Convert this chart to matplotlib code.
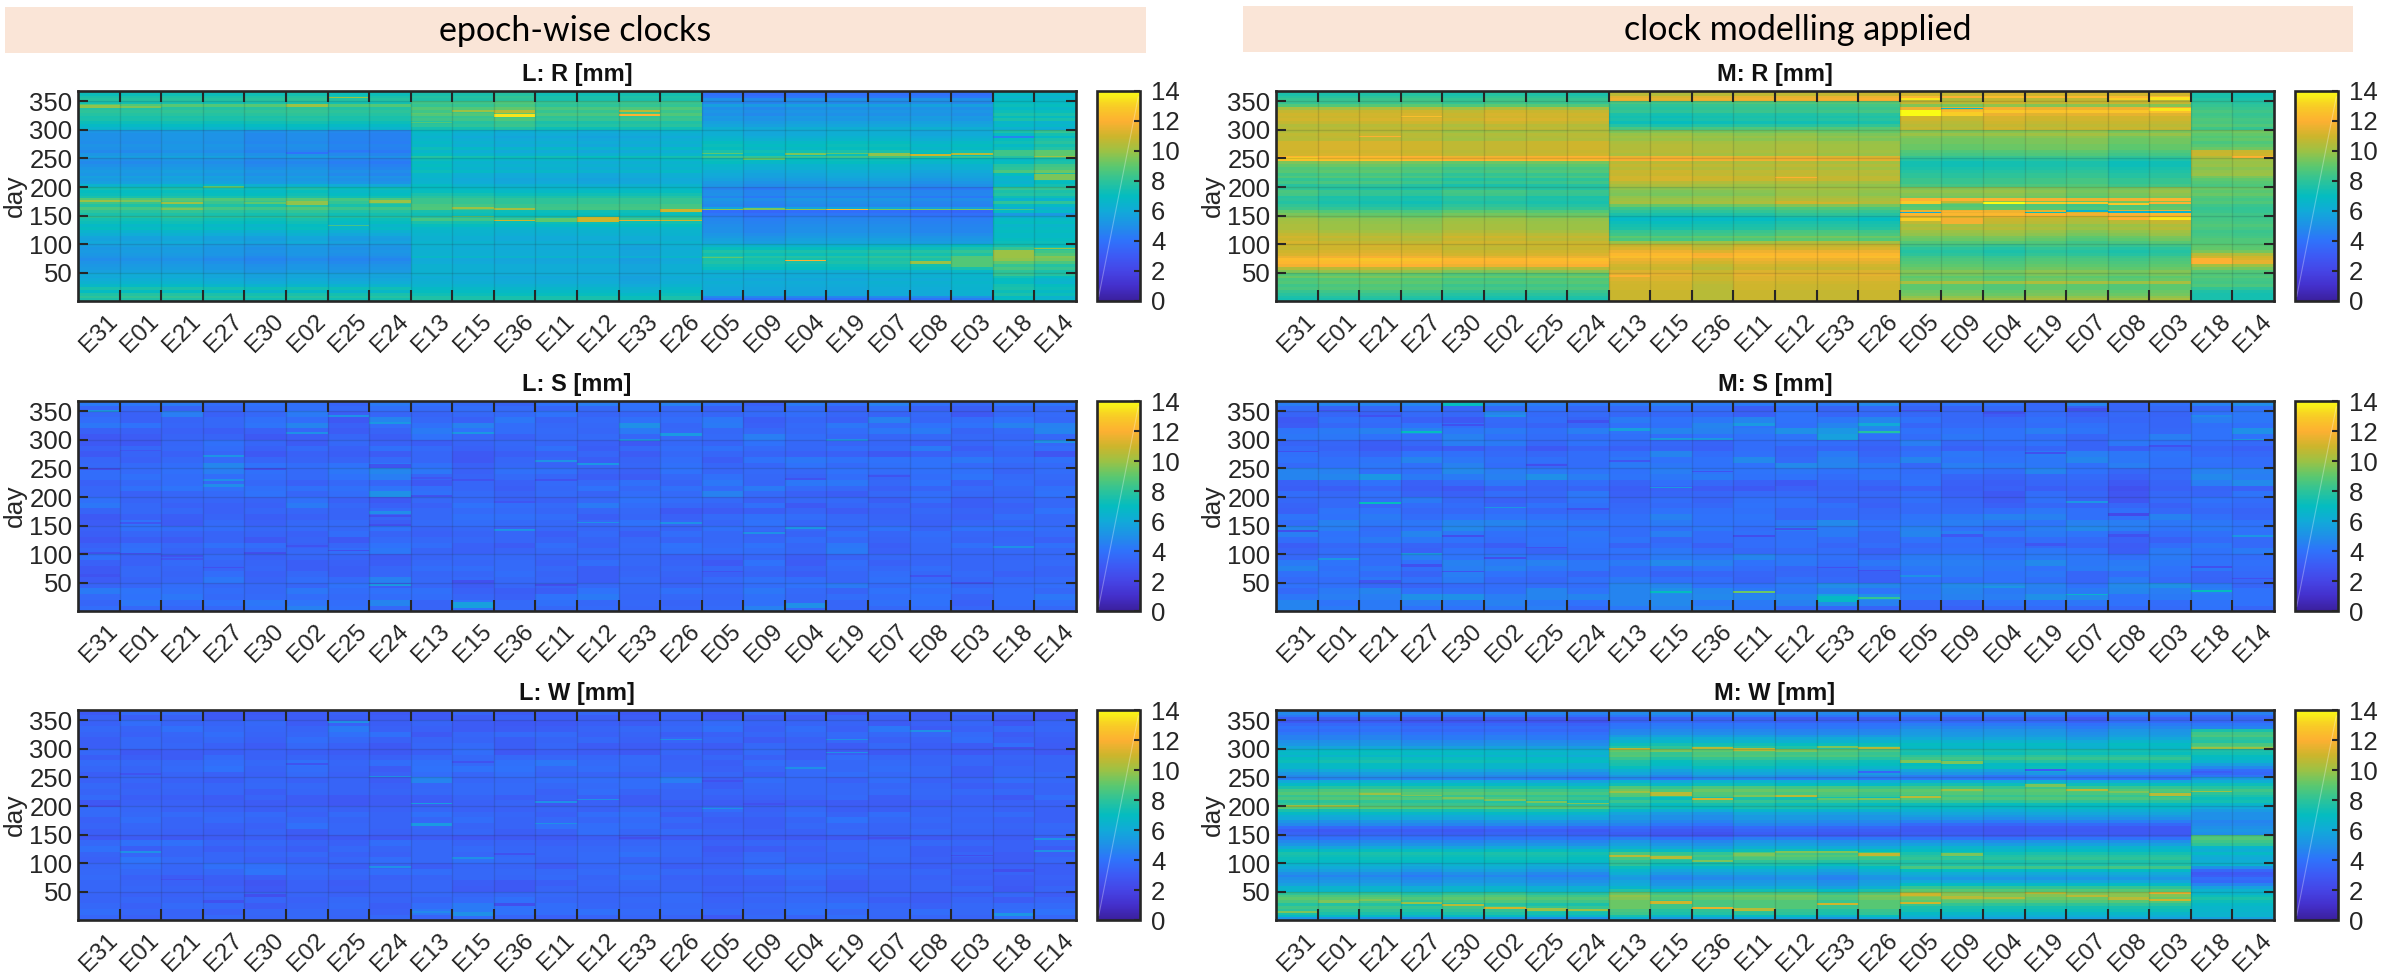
import numpy as np
import matplotlib
matplotlib.use("Agg")
import matplotlib.pyplot as plt
from matplotlib.colors import LinearSegmentedColormap
from matplotlib.patches import Rectangle

SATS = ["E31","E01","E21","E27","E30","E02","E25","E24","E13","E15","E36","E11",
        "E12","E33","E26","E05","E09","E04","E19","E07","E08","E03","E18","E14"]
GROUP_SIZES = [8, 7, 7, 2]
BAND_TOPS = [368,360,350,340,330,320,310,300,290,280,270,260,250,240,230,220,210,200,190,
             180,170,160,150,140,130,120,110,100,90,80,70,60,50,40,30,20,10,0]
FINE_TOPS = [368] + list(range(360, -1, -5))
COARSE_TOPS = [368, 300, 200, 100, 0]

# group profiles: one list per satellite group, first the newest days (360+), then 5-day bands
L_R_A = [7.2, 7.6,7.8,7.4,8.8,7.8,8.0, 7.8,7.5,7.6,7.2,6.8,6.5, 5.2,5.0,5.0,5.0,4.9,5.1, 5.0,4.8,5.2,5.5,5.0,4.8, 5.0,5.2,5.4,5.2,5.6,5.4, 5.6,6.5,7.2,6.8,7.0,7.4, 8.6,8.2,7.6,8.4,7.8,7.4, 7.8,7.2,7.0,6.6,6.8,6.3, 6.0,5.6,5.5,5.7,5.4,5.2, 5.3,5.2,5.0,4.8,5.0,5.2, 5.3,5.5,5.9,5.8,6.0,6.2, 6.6,7.4,6.8,7.6,7.9,7.5]
L_R_B = [7.3, 7.6,7.5,8.2,8.0,8.6,8.2, 8.6,8.0,8.2,7.6,7.8,7.2, 6.2,6.0,5.8,6.0,6.2,6.0, 6.6,6.0,6.4,7.2,6.6,6.2, 6.4,6.2,6.6,6.0,6.0,5.8, 5.9,6.3,6.6,6.8,7.2,7.6, 8.0,8.0,8.3,8.4,7.2,7.0, 7.6,8.2,7.2,6.8,6.4,6.3, 6.2,6.0,6.0,6.2,6.0,5.9, 6.0,6.0,6.4,5.7,5.8,6.0, 6.0,6.0,6.0,5.8,5.9,6.0, 6.2,6.5,6.7,7.0,7.4,7.4]
L_R_C = [3.9, 4.2,5.0,4.8,5.6,5.0,5.2, 5.0,5.4,5.3,5.6,5.8,6.2, 6.0,6.0,6.2,6.4,6.8,7.0, 6.8,7.4,7.0,8.2,7.0,6.8, 6.4,6.3,6.0,5.8,5.7,5.5, 5.2,5.0,4.6,4.9,5.0,4.6, 5.2,5.0,4.8,6.0,3.8,4.2, 4.5,4.7,4.8,4.9,5.0,5.0, 5.2,5.4,5.6,5.8,6.4,7.0, 7.6,7.2,7.8,7.4,7.6,7.2, 7.0,6.2,6.0,6.1,5.9,6.1, 6.0,5.9,5.8,5.8,4.6,3.9]
L_R_D = [6.8, 6.5,6.8,6.9,7.2,6.8,7.2, 7.6,7.0,7.6,6.6,6.8,6.3, 7.8,7.0,6.4,7.2,7.5,7.0, 7.4,8.6,8.6,8.0,7.0,7.2, 8.0,8.2,8.8,7.2,6.6,6.8, 6.6,7.0,8.2,7.6,7.8,7.2, 6.4,8.0,6.8,6.2,6.8,5.4, 6.2,6.8,7.0,6.6,6.8,7.0, 6.8,6.8,7.0,7.2,7.0,7.8, 8.4,8.8,9.6,9.4,8.6,7.8, 8.2,7.6,7.8,7.0,6.6,6.5, 7.0,7.2,6.8,7.2,6.4,6.6]
M_R_A = [7.6, 7.9,8.2,8.2,8.8,10.2,10.8, 11.0,10.9,11.1,10.8,10.4,10.6, 10.3,10.6,10.5,10.4,11.0,11.0, 11.0,10.9,11.0,12.0,12.4,9.4, 9.0,8.6,8.8,8.3,8.6,8.0, 8.4,7.8,7.8,8.3,8.2,7.6, 7.7,7.5,7.8,8.1,8.8,9.2, 9.4,9.8,9.9,10.0,10.0,10.2, 10.5,10.8,10.6,10.9,10.9,10.8, 11.0,11.2,11.6,12.4,12.2,11.8, 10.4,9.6,8.8,9.2,8.6,8.8, 8.4,8.6,8.2,7.9,7.6,7.4]
M_R_B = [10.6, 11.4,11.6,8.6,8.2,8.0,8.2, 7.6,7.4,7.6,7.2,7.8,8.6, 9.2,9.6,9.8,9.6,10.0,10.1, 10.1,10.2,10.0,11.4,11.6,10.2, 10.5,10.2,10.6,10.5,10.8,10.8, 10.2,9.9,10.0,9.8,9.7,10.0, 10.2,10.4,9.4,8.6,8.2,7.8, 7.3,7.0,7.4,7.6,7.8,8.4, 8.6,9.2,8.8,10.2,10.6,10.9, 11.4,12.0,12.2,11.4,11.1,10.8, 10.6,11.0,11.2,11.0,11.0,10.8, 10.7,10.7,10.6,10.6,10.6,10.6]
M_R_C = [10.8, 12.0,10.4,10.6,9.4,11.4,12.4, 11.2,10.8,10.8,10.6,10.4,10.6, 9.6,10.0,9.6,9.4,9.4,9.2, 9.2,8.8,8.6,8.2,7.8,7.4, 7.4,7.6,7.8,8.0,8.0,8.3, 8.3,8.6,9.4,9.6,9.4,9.2, 11.8,9.4,8.6,8.8,11.4,12.0, 11.0,10.6,10.5,10.0,10.2,9.8, 9.6,9.2,9.0,8.6,8.4,8.0, 7.8,8.0,8.4,8.6,8.8,9.0, 9.2,9.6,9.4,9.0,9.2,10.2, 9.0,9.0,9.2,9.4,9.8,10.2]
M_R_D = [7.5, 7.6,7.8,8.0,8.2,8.4,8.6, 8.4,8.5,8.7,8.6,8.9,8.4, 9.2,9.0,8.8,9.0,8.6,8.9, 9.2,10.8,10.9,10.4,10.0,9.8, 9.9,9.6,9.8,9.9,9.4,9.0, 8.8,8.6,9.2,9.0,9.2,8.8, 8.6,8.8,8.4,8.2,8.3,8.5, 8.4,8.5,8.6,8.8,8.6,8.4, 8.5,8.6,8.8,8.8,8.9,9.0, 9.4,10.4,11.0,11.2,10.8,10.0, 9.4,8.8,8.6,8.8,8.5,8.4, 8.6,8.0,7.6,7.4,7.4,7.4]
M_W_A = [4.8, 4.2,3.2,3.0,3.6,4.0,3.8, 4.2,4.5,4.5,5.0,5.2,5.8, 6.6,6.8,6.4,7.0,7.2,6.6, 6.6,5.8,5.2,4.8,4.4,6.0, 6.8,7.6,8.4,8.8,8.2,8.6, 7.8,8.2,8.8,7.4,6.6,6.0, 5.8,5.0,4.6,3.6,3.0,3.2, 3.6,4.0,4.6,5.0,5.8,6.8, 7.4,7.2,7.0,6.8,6.4,6.0, 5.6,5.0,4.6,5.0,5.2,5.6, 6.4,6.6,8.0,8.6,9.0,8.6, 7.8,8.4,8.0,7.6,6.8,5.2]
M_W_B = [4.8, 4.2,3.2,3.4,4.0,4.2,4.6, 4.8,5.4,6.0,6.4,7.2,7.8, 8.8,8.4,8.6,8.0,7.4,7.2, 6.8,6.0,5.6,5.0,4.4,6.2, 7.0,8.4,9.0,8.6,8.4,7.4, 8.0,7.2,7.4,6.4,5.6,5.2, 5.2,4.8,4.4,3.6,3.2,3.0, 3.2,4.2,5.0,5.4,6.0,7.0, 8.4,8.8,8.4,7.8,7.4,6.6, 6.0,5.6,5.0,4.8,5.2,5.4, 6.0,7.2,8.6,9.2,9.0,8.6, 8.6,8.6,8.0,7.8,6.8,5.6]
M_W_C = [4.6, 4.0,3.2,3.6,4.2,4.6,5.0, 5.2,5.4,5.8,6.4,6.8,6.6, 7.4,7.2,7.8,8.2,7.6,6.8, 7.0,5.6,5.0,4.2,4.0,6.0, 7.2,8.2,8.8,8.6,8.2,8.6, 8.0,7.0,6.8,6.2,5.8,5.4, 5.0,4.4,3.6,3.0,2.9,3.0, 3.2,4.0,5.0,5.6,6.4,6.8, 7.4,7.8,8.0,7.6,7.6,8.4, 6.8,6.0,5.6,5.2,5.8,6.8, 8.0,8.8,9.6,9.6,9.2,8.8, 8.0,7.4,7.2,6.6,6.2,5.6]
M_W_D = [4.5, 3.8,3.4,3.6,4.2,4.6,7.6, 8.4,8.6,8.0,7.8,8.6,9.0, 7.6,7.4,7.0,6.8,6.4,5.6, 4.8,3.8,3.6,4.2,5.4,6.2, 7.2,7.8,8.4,8.0,7.6,7.2, 7.4,6.6,6.0,5.4,5.0,5.0, 5.0,4.6,4.8,5.0,5.2,5.0, 8.6,8.8,8.4,8.0,6.6,6.2, 6.8,6.2,6.0,6.2,6.4,5.0, 3.6,3.0,3.2,3.8,3.6,4.6, 5.6,6.4,6.6,7.2,7.6,7.2, 6.8,6.6,6.6,6.4,6.5,5.6]

# per-satellite shifts against the group profile for four broad day ranges (newest first)
L_R_SHIFT = [
[0.0,0.0,0.1,0.0,0.1,0.2,0.0,0.0,0.2,0.2,0.5,0.0,0.0,0.1,0.1,0.0,-0.2,0.0,0.0,0.0,0.1,0.0,0.0,-0.1],
[0.0,0.0,0.2,0.1,-0.2,-0.1,-0.4,-0.5,0.6,0.2,0.0,0.1,-0.1,0.0,0.2,0.2,-0.1,0.0,0.2,0.2,-0.2,0.0,-0.2,0.4],
[0.2,0.1,0.3,0.1,0.0,0.3,-0.1,0.0,0.3,0.2,0.0,0.0,0.1,0.1,0.2,0.0,-0.3,0.0,0.0,0.0,-0.3,-0.3,0.0,0.0],
[0.1,0.2,0.2,0.0,-0.2,0.0,-0.2,-0.1,0.3,0.2,0.1,0.1,0.1,-0.2,0.2,0.1,0.0,0.0,0.0,0.2,0.2,0.5,0.4,0.0]]
M_R_SHIFT = [
[0.0,0.0,0.1,0.2,-0.1,0.2,0.1,0.0,0.0,-0.2,0.0,0.1,0.1,0.2,0.3,0.2,0.0,0.4,0.2,0.3,0.3,0.2,0.0,-0.2],
[0.1,0.2,0.2,0.0,-0.3,-0.2,-0.1,0.0,0.3,0.4,0.2,0.1,0.2,0.0,-0.1,0.0,-0.1,0.0,0.1,0.2,-0.2,-0.1,0.0,0.1],
[0.3,0.0,-0.1,-0.2,0.2,0.2,0.0,0.0,-0.2,-0.3,-0.2,-0.1,0.2,0.2,0.0,0.2,0.2,0.3,0.1,-0.2,0.0,0.3,0.0,-0.1],
[0.0,0.2,0.3,0.2,-0.1,-0.1,0.0,0.1,0.3,0.3,-0.1,0.3,0.2,0.2,0.3,0.0,0.0,-0.2,0.1,0.0,-0.2,0.0,0.1,0.0]]
M_W_SHIFT = [
[0.0,0.0,0.1,-0.2,-0.2,-0.1,-0.2,-0.3,0.0,0.2,0.1,0.1,-0.1,0.0,0.0,0.2,0.0,0.1,0.1,-0.3,0.2,0.1,0.0,0.0],
[0.0,0.2,0.3,0.1,0.1,0.0,-0.1,-0.3,0.3,-0.3,0.2,0.2,0.0,0.1,-0.2,0.2,0.2,0.0,0.2,0.0,0.0,-0.1,0.0,0.0],
[0.2,0.0,0.2,0.1,0.0,0.2,0.2,0.0,0.2,-0.2,-0.3,0.2,0.2,0.0,0.0,0.1,0.1,-0.1,0.1,0.1,0.0,0.0,0.0,0.0],
[0.0,0.0,0.0,-0.3,0.0,0.1,-0.2,-0.2,0.6,-0.2,0.0,0.1,0.2,-0.3,0.3,0.2,0.1,0.0,0.0,0.0,0.1,0.0,0.0,0.0]]

# narrow stripes: (satellite, first day, last day, value)
L_R_STRIPES = [("E36",322,328,13.5),("E36",330,335,10.5),("E33",325,328,12.0),("E33",332,335,10.5),("E15",331,334,10.0),
    ("E13",327,329,9.0),("E13",312,314,8.8),("E31",339,343,9.8),("E01",338,341,9.5),("E02",340,345,10.0),("E25",355,358,10.0),
    ("E31",174,177,10.0),("E01",174,177,9.5),("E21",171,174,10.0),("E21",160,163,9.5),("E27",199,202,9.0),("E30",171,174,9.0),
    ("E02",168,175,9.8),("E24",172,177,10.0),("E25",132,134,8.5),("E15",147,150,9.0),("E15",162,165,10.0),("E36",160,164,10.2),
    ("E36",140,143,11.0),("E11",138,145,9.0),("E12",139,147,11.0),("E33",140,143,11.5),("E26",157,161,11.0),("E26",140,143,11.0),
    ("E05",159,162,9.8),("E09",160,163,9.5),("E04",159,162,10.0),("E19",159,162,12.5),("E07",159,162,9.5),("E08",159,162,9.5),("E03",159,162,9.5),
    ("E18",159,162,8.5),("E08",255,258,11.0),("E03",256,259,10.5),("E07",255,260,9.8),("E04",256,259,9.5),("E19",258,260,9.0),
    ("E04",70,73,12.0),("E08",66,70,10.0),("E03",60,80,8.8),("E18",80,90,10.0),("E14",252,255,10.0),("E14",212,222,9.5),("E14",92,94,10.0),
    ("E05",75,78,9.0),("E05",258,260,9.0),("E09",248,251,9.0),("E25",262,264,4.2),("E02",258,262,4.0),("E18",285,290,4.6)]
M_R_STRIPES = [("E05",325,335,14.0),("E05",352,355,13.5),("E09",325,332,13.0),("E03",333,338,13.5),("E03",352,357,13.5),("E08",352,355,13.0),
    ("E09",336,339,6.5),("E04",170,173,14.0),("E05",170,175,12.8),("E09",172,176,10.8),("E19",170,173,13.0),("E07",170,173,12.8),("E08",168,172,12.8),("E03",170,174,12.0),
    ("E05",154,157,6.0),("E09",156,158,12.0),("E19",154,156,7.0),("E07",157,160,6.5),("E08",155,158,6.5),("E03",155,158,6.5),
    ("E05",140,146,13.0),("E09",135,145,11.8),("E03",142,147,13.5),("E08",142,147,12.0),("E27",322,325,12.5),("E21",287,290,12.0),
    ("E31",248,253,13.0),("E01",70,72,12.5),("E13",43,46,12.0),("E12",215,218,12.0),("E12",170,176,11.0),("E33",170,174,11.0),("E14",250,254,12.0),("E18",66,76,12.0),("E14",65,72,11.5)]
M_W_STRIPES = [("E31",199,202,10.0),("E01",198,201,10.0),("E21",219,222,10.0),("E27",217,220,9.5),("E30",213,216,9.5),("E02",209,212,9.5),("E25",205,208,9.5),("E24",203,206,9.5),
    ("E13",223,227,10.0),("E15",217,224,10.5),("E36",210,214,11.0),("E11",216,220,9.5),("E12",215,219,10.5),("E33",211,214,9.0),("E26",210,214,9.5),("E05",214,218,10.5),("E09",226,230,10.0),("E19",234,238,9.5),("E07",226,230,10.5),("E08",223,227,9.5),("E03",218,222,10.5),("E18",224,227,10.0),
    ("E13",298,301,10.5),("E15",295,299,9.5),("E36",300,303,10.5),("E11",297,301,10.5),("E12",295,299,9.5),("E33",301,305,9.5),("E26",299,303,10.5),("E05",276,280,9.5),("E09",274,278,9.5),("E18",299,303,10.0),("E14",300,304,10.0),
    ("E13",111,115,10.5),("E15",108,112,10.5),("E36",102,106,9.5),("E11",113,117,9.5),("E12",118,122,9.5),("E33",117,121,9.5),("E26",113,118,10.8),("E09",113,118,9.5),
    ("E31",13,16,9.5),("E01",31,35,9.5),("E21",34,38,9.5),("E27",29,32,10.0),("E30",25,29,10.5),("E02",20,24,11.0),("E25",17,21,10.0),("E24",16,19,10.0),("E15",29,33,11.0),("E36",20,24,11.5),("E11",17,21,10.5),("E33",26,30,11.0),
    ("E05",43,47,11.0),("E05",28,32,11.0),("E09",38,42,10.5),("E04",37,41,10.5),("E19",46,50,10.5),("E07",40,44,10.5),("E08",35,40,10.5),("E03",46,50,11.5),("E03",34,38,11.0),
    ("E19",262,265,3.0),("E18",258,262,3.2),("E26",258,262,3.5)]
M_S_STRIPES = [("E11",32,35,9.2),("E26",21,25,8.2),("E33",16,26,6.8),("E15",32,36,7.0),("E26",312,315,7.8),("E27",312,315,7.0),("E21",188,191,7.0),("E30",360,364,7.0),("E08",166,172,2.2),("E18",34,37,7.0),("E07",28,31,6.5),
    ("E31",278,281,2.6),("E31",138,142,2.5),("E01",350,353,2.7),("E01",90,93,5.2),("E21",340,343,2.6),("E21",50,54,2.8),("E27",98,102,5.3),("E27",78,82,2.6),("E30",325,328,2.6),("E30",130,133,2.5),("E30",68,71,2.7),
    ("E02",340,343,5.0),("E02",180,183,5.2),("E02",92,95,2.5),("E25",255,258,2.5),("E25",110,113,2.7),("E24",330,334,2.6),("E24",178,181,2.6),("E13",315,320,5.6),("E13",262,265,2.8),("E15",300,304,5.4),("E15",215,218,5.4),
    ("E36",243,246,2.7),("E36",300,303,5.3),("E11",130,133,2.5),("E11",325,330,5.4),("E12",142,146,2.6),("E33",300,310,5.6),("E33",75,78,2.6),("E26",325,330,6.0),("E26",70,73,2.6),("E05",350,353,2.6),("E05",60,64,5.0),
    ("E09",130,136,2.9),("E04",345,348,2.6),("E04",40,44,5.2),("E19",275,278,2.6),("E19",115,120,2.8),("E07",350,355,2.6),("E07",190,193,5.2),("E08",130,135,2.6),("E03",288,291,2.6),("E18",340,344,4.8),("E18",75,80,2.6),("E14",300,302,5.4),("E14",130,133,5.2),("E14",56,59,2.6)]
L_S_STRIPES = [("E15",6,16,5.6),("E04",6,14,5.0),("E24",171,176,4.9),("E24",44,48,5.4),("E31",349,352,5.2),("E36",141,144,5.2),("E12",154,157,5.0),("E27",217,222,4.9),("E26",307,312,5.4),("E04",144,148,5.2),
    ("E31",248,251,2.5),("E31",60,66,2.7),("E31",100,103,2.6),("E01",100,102,2.5),("E01",153,157,2.8),("E01",280,283,2.8),("E21",95,99,2.7),("E21",90,93,2.8),("E27",270,273,5.1),("E27",228,231,5.0),("E27",75,78,2.6),("E30",248,251,2.6),("E30",100,103,2.5),
    ("E02",112,116,2.7),("E02",310,313,5.0),("E25",105,108,2.5),("E25",340,343,5.0),("E24",328,331,5.3),("E24",150,153,2.5),("E24",250,258,2.7),("E24",165,168,2.5),("E13",200,204,2.7),("E13",232,235,2.8),("E15",228,232,2.7),("E15",50,54,2.6),("E15",310,313,5.3),
    ("E36",190,193,2.8),("E36",140,143,5.0),("E11",262,265,5.1),("E11",45,48,2.5),("E11",228,231,2.7),("E12",256,259,5.2),("E33",298,302,5.0),("E26",152,156,5.0),("E05",68,71,2.7),("E09",135,138,5.0),("E04",230,233,2.7),("E19",298,302,5.0),("E07",235,238,2.7),("E08",60,64,2.7),("E03",48,52,2.7),("E18",110,114,5.0),("E14",295,299,5.0)]
L_W_STRIPES = [("E13",203,205,5.5),("E11",205,208,5.0),("E15",108,111,5.0),("E15",8,14,5.0),("E18",8,12,5.2),("E13",12,16,4.8),("E05",194,197,5.0),("E19",292,295,5.0),("E14",140,144,5.0),
    ("E31",198,201,2.6),("E01",118,121,5.0),("E01",255,258,2.7),("E21",70,73,2.6),("E27",30,35,2.6),("E30",40,46,2.5),("E02",272,275,2.7),("E25",345,348,5.0),("E24",250,253,5.0),("E24",92,95,5.0),("E13",165,170,5.4),("E15",275,278,2.7),
    ("E36",115,118,2.6),("E36",25,30,2.5),("E11",168,171,5.0),("E12",210,213,5.0),("E33",142,145,2.5),("E26",315,318,5.0),("E05",242,245,2.6),("E09",202,206,2.6),("E04",265,268,5.0),("E19",315,318,5.0),("E07",142,145,2.5),("E08",330,333,5.0),("E03",112,115,2.5),("E18",85,90,2.5),("E14",120,123,5.0),("E18",300,303,2.5)]

# single-satellite tables: one row per 10-day band (latest first), one value per satellite
L_S = [
[4.3,4.2,4.3,3.8,4.0,3.9,3.4,4.3,3.9,3.7,3.4,4.0,4.4,4.0,4.5,4.0,3.3,4.3,3.9,4.5,3.9,3.6,4.1,4.1],
[3.5,3.6,3.4,3.5,3.8,3.9,3.6,3.9,3.7,3.8,3.7,3.5,3.6,3.9,3.6,3.3,3.5,3.7,3.3,3.8,3.3,3.2,3.5,3.6],
[3.6,3.3,4.4,3.3,3.6,4.3,3.2,3.5,3.4,3.6,3.7,4.0,3.4,3.5,3.6,3.5,3.7,3.8,3.5,3.4,3.6,3.0,3.6,3.7],
[3.8,3.3,3.4,3.6,3.9,3.8,2.9,4.6,3.6,3.3,4.2,3.4,3.7,3.9,3.8,4.2,3.2,3.5,3.3,4.5,3.5,3.8,4.0,3.6],
[4.2,4.0,3.5,3.6,4.1,4.6,3.3,3.8,3.9,4.5,3.8,3.6,3.6,5.0,3.5,4.3,3.3,3.7,4.2,3.7,4.0,4.0,4.5,4.5],
[3.3,3.3,3.3,3.2,3.3,3.5,3.1,3.4,4.3,4.0,3.8,3.7,3.5,4.3,3.6,3.6,3.6,3.6,3.8,4.2,4.3,3.4,3.7,4.6],
[2.9,3.1,3.4,3.4,3.0,3.2,3.5,3.2,4.0,3.5,3.3,3.6,3.7,3.5,3.6,3.7,4.4,3.8,3.6,3.5,3.6,3.6,3.5,3.6],
[3.0,3.0,3.5,3.9,3.5,3.1,3.6,3.3,3.2,3.4,3.6,3.5,3.3,3.0,3.6,3.4,4.0,3.6,3.4,3.5,3.3,3.5,3.8,3.6],
[3.3,3.6,3.6,3.8,3.3,3.7,3.3,3.9,3.7,3.3,3.5,3.9,3.2,3.6,3.8,3.9,3.7,3.6,3.8,3.7,4.3,3.2,3.6,3.8],
[3.0,3.4,3.3,3.5,3.0,3.3,3.2,3.1,3.5,3.0,3.2,3.3,3.5,3.1,3.6,3.5,3.4,3.3,3.3,3.0,3.3,3.5,3.4,2.8],
[3.5,3.3,3.6,3.7,3.5,3.4,3.4,3.7,3.5,2.9,3.5,3.5,3.2,3.4,3.8,3.2,4.0,4.2,4.0,4.0,4.0,4.2,3.8,3.9],
[3.6,3.7,3.8,4.7,4.0,3.8,4.0,4.2,3.9,3.3,3.6,3.4,3.6,3.5,3.9,3.5,3.5,4.0,3.7,3.9,4.0,3.7,3.6,3.7],
[3.8,3.7,3.9,4.4,3.9,3.7,4.2,4.7,4.2,3.3,3.9,3.9,3.4,3.3,4.0,3.5,3.7,3.6,4.0,3.8,3.9,3.9,3.4,3.8],
[3.8,3.9,3.8,3.8,3.8,3.7,4.0,4.4,3.4,3.4,3.7,3.5,3.2,3.1,3.6,3.9,3.6,3.4,3.8,3.5,3.8,4.1,3.7,3.7],
[3.3,3.6,3.8,3.6,3.6,3.3,3.6,3.5,3.0,3.5,3.3,3.7,3.6,3.9,3.4,4.2,3.5,4.2,4.2,3.6,4.0,3.3,3.8,3.5],
[3.5,3.9,4.1,3.9,3.9,3.9,3.9,4.1,3.8,3.5,3.2,3.6,4.0,3.6,3.9,3.7,4.3,3.7,3.6,3.3,3.4,3.7,3.6,3.9],
[3.5,3.3,3.5,3.7,4.0,3.5,3.8,5.0,3.9,3.7,3.4,3.7,3.4,3.8,3.7,4.5,3.7,3.3,3.2,3.6,3.8,3.6,3.5,4.0],
[3.9,3.4,3.5,3.5,3.4,3.9,3.3,3.0,3.6,3.6,3.3,3.3,3.6,4.0,3.8,3.7,3.3,3.6,3.7,3.2,3.8,3.2,3.6,3.6],
[4.2,3.6,3.3,3.3,3.3,4.3,3.6,3.3,3.3,4.0,3.8,3.7,4.3,3.8,3.6,3.4,3.9,3.0,3.5,3.6,3.3,3.2,3.3,3.6],
[3.4,3.6,3.6,3.3,3.5,3.5,3.4,3.7,3.6,3.7,3.7,3.5,3.5,3.6,3.0,3.1,3.2,3.4,3.1,3.3,3.6,3.4,3.4,4.0],
[3.0,3.3,3.2,3.4,3.2,3.3,3.4,3.4,3.6,3.9,3.9,3.8,3.2,3.5,3.3,3.7,3.9,3.8,3.6,3.4,3.4,3.3,3.8,3.6],
[3.1,4.0,3.1,3.7,3.3,3.6,3.7,3.2,3.7,3.8,3.7,3.6,3.6,4.0,3.5,3.5,4.0,3.5,3.7,3.5,3.3,3.5,3.5,3.6],
[3.3,3.9,3.8,3.8,3.6,3.7,3.6,4.0,3.4,3.6,3.3,3.6,3.5,3.6,3.4,3.9,3.7,3.7,3.5,4.0,3.4,4.0,4.0,3.8],
[3.2,3.5,3.4,3.4,3.4,3.3,3.8,3.4,3.3,3.4,3.5,3.2,3.7,3.2,3.8,3.6,3.4,3.4,3.9,3.5,3.8,3.5,3.4,3.7],
[2.9,3.2,3.1,3.4,3.0,3.4,3.0,3.7,3.6,3.6,3.5,3.4,3.4,3.6,3.4,3.6,3.5,3.8,3.6,3.4,3.7,3.4,3.5,3.3],
[3.3,3.8,3.6,3.9,3.8,3.3,3.5,4.0,3.8,3.3,3.1,3.8,3.3,3.7,4.0,3.7,4.0,3.5,4.2,3.2,3.6,3.9,3.6,3.9],
[3.5,3.9,3.4,3.4,3.5,3.6,3.8,4.2,3.4,3.3,3.4,3.6,3.6,3.6,3.9,3.8,3.8,3.6,4.3,3.3,3.6,3.5,3.6,3.6],
[3.9,3.3,3.5,3.7,3.3,3.5,3.4,3.1,3.4,3.6,3.6,3.4,3.4,3.6,3.3,3.3,3.5,3.2,3.4,3.6,3.4,3.5,3.5,3.6],
[3.3,3.3,3.7,3.5,3.4,3.2,3.3,3.2,3.6,3.5,3.7,3.3,3.8,3.6,3.4,3.0,4.0,3.1,3.8,3.3,3.5,3.5,3.6,3.7],
[3.0,3.6,3.5,3.4,3.5,3.2,3.2,3.5,3.8,3.8,3.7,3.6,3.2,3.4,3.6,3.6,3.6,3.4,3.7,3.6,3.8,3.5,3.6,3.4],
[3.0,3.6,3.4,3.8,3.3,3.6,3.2,3.5,3.5,3.5,3.8,3.4,3.2,3.5,3.4,3.3,3.4,3.2,3.5,3.8,3.6,3.7,3.3,3.4],
[3.1,3.4,3.5,4.2,3.4,3.8,3.7,4.5,3.6,3.7,3.6,3.5,3.2,3.7,3.3,3.7,3.9,3.8,3.5,3.9,3.7,3.5,3.7,3.7],
[3.4,3.5,3.8,3.6,3.6,3.5,4.0,3.2,3.5,3.1,3.5,3.4,3.6,3.6,3.4,3.5,3.8,4.0,4.3,3.7,4.0,3.5,3.7,3.8],
[4.3,4.1,3.9,3.8,3.6,4.2,3.8,4.0,3.9,3.3,3.2,3.2,4.0,3.6,3.9,3.7,4.2,3.7,3.4,4.0,3.8,3.8,3.8,3.6],
[3.7,4.0,4.2,3.7,3.7,3.8,3.7,3.8,3.8,3.5,3.3,4.0,4.3,3.5,3.6,3.5,3.9,3.6,3.8,3.8,4.0,3.4,3.8,4.2],
[3.5,4.2,3.8,4.0,4.2,4.1,3.8,4.6,3.4,4.0,3.7,3.9,3.6,3.6,3.4,3.6,3.9,3.6,3.5,3.9,4.0,3.3,3.8,3.9],
[3.8,3.6,3.5,3.6,4.0,4.5,3.9,3.6,3.4,3.9,3.7,3.6,3.7,3.5,3.5,3.7,4.5,3.6,3.5,3.6,3.8,3.5,3.7,3.6]]
M_S = [
[4.4,4.7,4.6,4.7,5.6,4.6,4.4,4.2,4.3,4.5,4.3,4.3,4.4,4.3,4.8,3.8,4.1,4.0,3.6,4.6,3.5,3.9,4.5,4.9],
[3.8,3.4,3.6,4.0,3.5,3.7,4.0,3.6,3.7,3.9,3.8,3.2,3.8,3.4,3.7,3.4,3.4,3.6,3.6,3.3,3.4,3.6,3.6,3.9],
[3.4,3.5,3.3,3.7,3.6,4.6,3.7,3.7,3.6,3.6,3.6,3.3,4.0,3.5,3.7,3.6,3.6,3.1,3.7,3.3,3.6,3.4,4.0,4.2],
[3.0,3.9,3.8,3.3,3.0,3.7,3.8,3.4,4.3,4.0,4.2,4.6,4.0,4.2,4.7,4.0,3.6,3.6,3.9,3.6,3.5,3.5,4.4,4.2],
[3.1,3.6,3.7,4.0,3.8,3.6,3.4,3.6,3.9,3.9,4.6,4.0,3.9,4.6,4.8,3.5,3.7,3.7,3.8,3.9,3.7,3.5,3.9,3.9],
[4.1,4.3,4.5,4.6,4.2,4.3,3.9,4.4,4.1,4.6,4.5,4.3,5.0,5.3,4.7,4.0,4.0,4.0,4.4,4.1,3.7,3.6,4.0,5.0],
[4.2,4.2,4.0,3.8,4.5,4.0,3.8,3.8,3.9,3.8,4.0,4.0,4.1,4.0,3.9,3.8,4.2,4.0,3.8,3.5,3.8,4.4,4.0,4.0],
[3.4,3.5,3.2,3.6,4.4,4.3,3.6,4.0,3.7,3.6,3.4,3.8,3.9,3.8,3.5,4.4,3.6,3.8,4.0,3.4,4.2,4.0,3.8,3.7],
[3.7,3.4,3.1,3.2,3.1,3.5,3.0,3.4,3.3,3.4,3.3,3.8,3.4,3.5,3.3,3.7,3.3,3.5,3.5,3.4,3.2,3.6,3.5,3.3],
[3.9,3.7,3.5,4.0,3.9,3.7,3.6,3.8,3.9,4.6,3.8,3.9,3.5,4.3,3.5,3.9,4.2,3.9,4.3,4.4,4.2,4.1,3.7,3.6],
[4.0,3.9,4.1,4.6,4.2,3.9,3.9,3.8,4.2,4.0,4.0,4.8,3.7,4.5,3.8,4.6,4.1,4.0,4.2,4.7,4.2,4.0,4.0,3.8],
[3.7,3.9,4.2,3.9,4.5,3.8,3.7,3.8,4.3,4.2,4.0,4.0,4.8,4.6,4.3,3.6,4.4,4.3,4.2,3.9,4.4,4.0,3.9,3.8],
[4.6,4.5,3.9,3.9,4.8,4.4,4.3,4.1,4.0,4.4,4.1,4.1,4.2,4.0,4.0,3.8,4.1,3.8,4.6,4.0,3.6,3.6,4.5,4.5],
[4.6,4.7,5.3,4.3,4.3,4.5,5.0,4.4,4.1,4.2,4.3,4.0,4.0,3.8,4.1,3.9,3.5,3.4,3.6,3.7,3.3,3.7,4.8,4.4],
[3.3,3.6,4.0,3.3,3.7,4.2,3.6,3.8,3.4,3.9,3.6,3.3,3.0,3.5,3.5,4.0,3.3,3.2,3.5,3.5,3.0,3.4,4.4,4.8],
[3.2,3.2,3.5,3.2,2.9,3.3,3.4,3.4,3.2,3.3,3.1,3.0,3.3,3.4,3.2,3.3,3.2,3.3,3.2,3.3,2.6,3.3,3.4,3.3],
[3.8,3.6,3.9,3.4,3.3,3.8,3.6,4.2,3.3,3.5,3.5,3.7,3.7,3.6,3.6,3.8,3.3,3.0,3.8,3.5,2.8,3.6,3.5,4.1],
[3.6,3.7,3.8,4.3,3.6,3.3,3.5,4.1,3.4,3.8,3.4,3.9,3.9,3.4,3.4,3.9,3.5,3.1,3.9,3.4,2.8,3.7,4.0,3.8],
[3.4,3.7,3.5,3.8,3.8,3.6,4.0,3.9,3.6,3.7,3.6,4.0,3.9,3.9,3.3,3.7,3.6,3.3,3.6,3.4,3.5,3.3,3.8,3.7],
[3.3,4.1,4.0,3.6,3.6,3.8,3.5,3.6,3.7,4.0,3.9,3.9,3.5,3.7,3.6,3.7,3.7,3.8,4.2,3.9,3.9,3.6,3.6,3.4],
[4.1,4.0,4.3,3.8,4.0,4.1,4.0,3.9,3.9,4.5,4.0,4.1,3.5,3.7,3.7,4.1,4.3,4.5,4.5,3.9,3.9,4.5,3.9,3.5],
[3.8,4.5,4.2,4.2,4.6,4.6,4.3,4.2,4.0,4.3,4.0,4.0,4.2,4.8,4.0,4.2,4.4,4.2,4.1,4.5,4.4,4.2,4.2,4.0],
[4.6,4.4,3.8,4.0,4.8,4.3,4.1,3.8,3.8,3.9,4.2,3.8,4.4,4.3,4.0,4.5,4.0,3.7,4.4,4.8,4.4,4.1,4.3,4.1],
[4.4,4.0,3.9,4.6,4.2,3.9,3.9,4.2,3.8,4.4,3.8,3.9,3.9,4.3,3.6,4.6,4.4,4.2,4.3,4.1,3.6,3.8,3.9,4.0],
[3.8,4.1,4.3,4.2,4.0,3.8,4.0,4.1,4.1,3.6,3.8,3.8,3.9,3.8,3.6,4.0,3.9,3.5,3.8,3.7,3.3,3.3,3.7,3.7],
[3.2,3.6,3.5,3.4,3.5,3.2,3.9,4.0,3.4,3.8,3.3,3.8,3.9,3.5,3.8,3.6,3.8,3.7,3.6,3.4,3.1,3.8,4.2,3.7],
[3.4,3.8,3.8,3.3,4.0,3.8,3.4,3.9,4.0,4.2,3.8,3.6,3.7,3.8,3.3,3.8,3.9,4.0,4.2,4.0,3.2,4.3,4.0,4.3],
[3.6,3.8,3.8,4.4,4.1,4.2,3.9,3.7,3.8,4.3,4.2,4.6,4.2,3.9,3.7,4.3,4.3,4.0,4.3,4.2,3.9,4.3,3.9,3.8],
[4.3,4.1,3.8,4.0,4.5,4.3,4.5,4.2,4.3,4.8,4.5,4.0,4.2,3.8,4.2,4.4,4.4,4.3,4.8,4.2,4.3,4.2,4.0,3.9],
[4.6,3.9,4.2,3.8,4.4,4.5,4.2,4.2,3.8,3.8,4.1,3.8,3.5,3.6,3.8,4.2,4.3,4.2,4.0,4.3,4.4,4.0,4.2,3.8],
[3.9,4.1,3.8,3.4,4.4,4.0,3.8,3.5,3.8,3.4,3.5,3.5,3.6,3.5,3.3,4.0,4.3,4.0,4.2,3.5,3.8,3.9,3.5,3.7],
[3.7,3.8,4.2,3.9,4.3,3.7,3.6,3.9,4.3,3.9,3.8,3.4,3.9,3.7,3.3,4.0,3.9,4.0,3.9,3.5,4.3,3.7,3.4,3.5],
[4.0,3.9,3.6,3.4,3.7,3.8,3.8,3.8,4.6,4.6,4.0,4.0,4.3,4.9,4.7,4.3,4.8,4.8,4.5,4.0,4.8,5.0,4.3,3.5],
[3.7,4.3,4.6,4.0,3.9,3.9,4.6,4.1,4.6,5.0,4.7,4.3,4.2,4.5,4.1,4.2,4.6,4.3,4.4,4.3,4.7,4.4,4.4,4.0],
[4.2,4.4,4.4,5.0,5.0,4.4,4.6,4.6,4.6,4.8,4.8,4.6,4.7,5.8,5.0,4.3,4.5,4.4,5.0,4.8,4.0,4.3,4.2,4.0],
[4.6,4.1,4.3,4.4,4.3,4.5,4.3,4.0,4.6,4.8,4.3,4.3,4.5,5.0,4.5,3.6,3.6,4.1,4.0,4.2,4.0,3.8,4.1,4.0],
[4.6,4.3,4.3,4.0,4.0,4.2,4.4,3.6,4.2,4.5,4.5,4.2,3.7,3.6,3.4,3.5,3.3,3.6,3.7,3.6,3.6,3.7,4.0,3.5]]
L_W = [
[3.0,3.7,3.7,3.0,3.0,3.1,3.3,3.0,3.0,3.4,3.1,3.1,3.6,3.0,3.4,2.8,3.6,3.5,2.8,3.5,3.1,3.5,3.4,2.9],
[3.3,3.2,3.3,3.0,3.1,3.1,3.2,3.1,3.0,3.1,3.3,3.2,3.2,3.1,3.3,3.0,3.1,3.1,3.4,3.3,3.1,3.2,3.1,2.9],
[3.3,3.8,3.4,3.4,3.6,3.1,3.3,3.2,3.4,3.1,3.0,3.0,3.2,3.1,3.4,3.7,3.4,3.4,3.4,3.1,3.3,3.5,2.9,3.4],
[3.6,3.4,3.9,3.6,3.5,3.4,4.3,3.3,3.3,3.1,3.1,3.2,3.4,3.6,3.6,3.9,3.3,3.8,3.3,4.2,3.1,3.3,3.6,3.5],
[3.4,3.3,3.5,3.8,3.4,3.5,3.9,3.9,3.0,3.5,3.7,3.7,3.3,3.4,3.2,3.3,3.5,3.6,3.7,3.6,3.6,3.7,3.1,3.3],
[3.2,3.6,3.4,3.6,3.3,3.8,3.6,3.3,3.4,3.4,3.2,3.4,3.6,3.3,3.5,3.5,3.1,3.3,3.6,3.3,3.3,3.8,3.3,3.2],
[3.2,3.6,3.5,3.3,3.1,3.6,3.3,3.0,3.5,3.7,3.2,3.5,3.1,3.1,3.2,3.1,3.6,3.4,3.1,3.6,3.2,3.1,3.8,3.1],
[3.6,3.0,3.1,3.2,3.3,3.2,3.1,3.0,3.2,3.8,2.9,3.2,3.1,3.0,3.5,3.2,3.7,3.2,3.1,3.0,3.2,2.9,3.2,2.9],
[3.2,3.2,3.1,3.7,3.3,3.4,3.3,3.3,3.6,3.6,3.6,3.5,3.5,3.7,3.3,3.5,3.3,3.2,3.8,3.5,3.4,3.5,3.4,3.4],
[3.7,3.6,3.6,3.8,3.6,3.9,3.5,3.8,3.9,3.6,3.9,4.2,3.7,3.7,3.4,3.2,3.8,3.6,3.6,3.7,3.4,3.5,3.3,3.4],
[3.5,3.4,3.7,4.0,3.4,3.8,3.4,3.1,4.0,4.0,4.0,3.6,3.8,3.6,3.4,3.3,3.5,3.7,3.6,3.8,3.6,3.2,3.5,3.4],
[3.2,3.4,3.4,3.3,3.3,3.7,3.3,3.3,3.8,3.5,3.8,3.4,3.4,3.3,3.6,3.5,3.2,3.7,3.8,3.6,3.6,3.2,3.5,3.6],
[3.3,3.5,3.3,3.2,3.5,3.3,3.4,3.1,4.6,3.5,3.6,3.8,3.8,3.8,4.4,3.2,3.8,3.6,3.3,3.8,3.3,3.4,3.8,3.6],
[3.6,3.3,3.5,3.5,3.6,3.6,3.4,3.3,3.5,3.7,3.7,3.6,3.7,3.8,3.6,3.2,3.6,3.6,3.6,3.5,3.5,3.2,3.3,3.4],
[3.4,3.4,3.4,3.5,3.2,3.5,3.4,3.4,3.6,3.7,3.7,3.3,3.8,3.4,3.4,3.5,3.5,3.6,3.6,3.7,3.6,3.6,3.6,3.4],
[3.7,3.2,3.2,3.1,3.4,3.1,3.0,3.1,3.2,3.4,3.2,3.4,3.3,3.1,3.4,3.3,3.3,3.4,3.7,3.2,3.5,3.3,3.0,3.8],
[2.9,3.3,3.3,3.2,3.1,3.1,2.9,3.1,3.1,3.3,3.4,3.0,3.3,3.1,3.1,3.1,3.1,3.1,3.1,3.1,3.1,3.3,3.3,3.3],
[3.7,3.5,3.3,3.3,3.2,3.4,3.3,3.3,3.5,3.3,3.3,3.4,3.3,3.6,3.4,3.8,3.3,3.6,3.2,3.2,3.4,3.4,3.3,3.3],
[3.7,3.6,3.7,3.6,3.7,3.3,3.7,3.4,3.9,3.6,3.5,3.3,3.8,3.9,3.1,3.4,3.4,3.8,3.4,3.8,3.4,3.5,3.7,3.3],
[3.3,3.8,3.4,3.7,3.5,3.6,3.4,3.4,3.5,3.8,3.4,3.6,3.5,3.7,3.6,3.2,3.2,3.4,4.0,3.6,3.6,3.4,3.3,3.3],
[3.4,3.5,3.4,3.3,3.3,3.9,3.5,3.4,3.5,3.4,3.4,3.9,3.8,3.8,3.3,3.3,3.2,3.6,3.5,3.4,3.4,3.5,3.4,3.6],
[3.2,3.4,3.3,3.2,3.4,3.1,3.5,3.3,3.4,3.5,3.2,3.3,3.8,3.5,3.7,3.4,3.3,3.3,3.6,3.4,3.6,3.4,3.3,3.5],
[2.9,3.1,3.0,3.1,3.2,2.9,3.0,2.9,3.1,2.9,3.0,3.0,3.2,3.1,3.0,3.0,3.0,3.0,3.0,3.1,3.0,3.1,3.1,3.3],
[3.6,3.9,3.9,3.5,3.6,3.4,3.3,3.8,3.6,3.4,3.4,3.3,3.4,3.5,3.5,3.3,3.5,3.5,3.6,3.6,3.6,3.5,3.3,3.5],
[3.9,3.2,3.4,3.2,3.3,3.2,3.6,3.4,3.6,3.7,3.5,3.5,3.6,3.7,3.6,3.0,3.1,3.3,3.6,3.7,3.2,3.2,3.3,3.1],
[3.4,3.5,3.4,3.5,3.5,3.6,3.3,3.3,3.6,3.5,3.6,3.5,3.7,3.9,3.6,3.2,3.6,3.4,3.4,3.7,3.2,3.4,3.1,3.3],
[3.3,4.1,3.7,3.5,3.3,3.3,3.5,3.8,3.6,3.9,3.7,3.4,3.7,3.4,3.4,3.3,3.7,3.3,3.4,3.6,3.3,3.1,3.1,3.5],
[3.5,3.8,3.5,3.9,3.9,3.6,3.2,3.4,3.2,3.5,3.4,3.1,3.5,3.7,3.2,3.3,3.5,3.8,3.8,3.3,3.2,3.4,3.3,3.2],
[3.6,3.6,3.5,3.6,4.1,3.7,3.6,3.8,3.8,3.6,3.6,3.6,3.7,3.7,3.6,3.5,3.9,3.9,3.6,3.5,3.5,3.2,3.4,3.2],
[3.7,3.3,3.1,3.2,3.2,3.5,3.4,3.3,3.4,3.6,3.5,3.7,3.4,3.9,3.3,3.2,3.3,3.7,3.3,3.4,3.3,3.3,3.2,3.3],
[3.5,3.4,3.3,3.1,2.8,3.3,3.1,3.4,3.5,3.2,3.0,3.2,3.5,3.6,3.4,3.2,3.2,3.4,3.1,3.3,3.4,3.2,3.1,3.2],
[3.5,3.5,3.4,3.3,3.0,3.3,3.2,3.4,3.5,3.1,3.0,3.4,3.4,3.5,3.4,3.3,3.3,3.7,3.1,3.3,3.4,3.5,3.0,3.4],
[3.4,3.3,3.3,3.5,3.4,3.4,3.3,3.3,3.6,3.5,3.6,3.6,3.4,3.4,3.7,3.2,3.5,3.5,3.4,3.4,3.1,3.2,3.6,3.1],
[3.4,3.5,3.4,3.4,3.5,3.3,3.6,3.4,3.4,3.7,3.9,3.5,3.4,3.6,3.7,3.3,3.4,3.6,3.5,3.2,3.1,3.4,3.1,3.4],
[3.6,3.3,3.7,3.6,3.1,3.4,3.7,3.2,3.8,4.3,4.0,3.8,3.5,3.5,3.6,3.4,3.6,3.8,3.9,3.5,3.3,3.6,3.7,3.7],
[3.8,3.5,3.4,3.3,3.5,3.6,3.5,3.3,4.2,4.3,4.0,3.8,3.9,3.7,3.7,3.6,3.5,3.9,3.6,3.6,3.8,3.6,3.8,4.0],
[3.5,3.3,3.4,3.6,3.4,3.6,3.4,3.6,3.4,3.8,3.5,3.3,3.4,3.5,3.4,3.0,3.6,3.4,3.8,3.5,3.5,3.4,3.9,3.6]]

CMAP_VALUES = [0,1,2,3,4,5,6,7,8,9,10,11,12,13,14]
CMAP_COLORS = ["#3b1f9c","#4430cc","#4545e6","#3d5af5","#2f72fb","#1f90e8","#11aad8","#04bcc0",
               "#2cc39a","#5cc86e","#9cc245","#cdb52c","#fdb032","#f8cc26","#f9fb14"]
VMIN, VMAX = 0, 14
YTICKS = [50,100,150,200,250,300,350]
CTICKS = [0,2,4,6,8,10,12,14]
BANNERS = ["epoch-wise clocks", "clock modelling applied"]
TITLES = [["L: R [mm]","L: S [mm]","L: W [mm]"],["M: R [mm]","M: S [mm]","M: W [mm]"]]

W, H = 2395, 980
plt.rcParams["font.family"] = ["Liberation Sans", "DejaVu Sans"]
cmap = LinearSegmentedColormap.from_list("clk", [(v/14, c) for v, c in zip(CMAP_VALUES, CMAP_COLORS)], N=256)
DARK = "#262626"

def expand_groups(groups):
    return np.array([g for g, n in zip(groups, GROUP_SIZES) for _ in range(n)]).T

def daily(table, tops, stripes, shift=None):
    """Per-day, per-satellite matrix built from bands, optional broad shifts and narrow stripes."""
    m = np.zeros((tops[0], len(SATS)))
    for i, row in enumerate(table):
        m[tops[i+1]:tops[i], :] = row
    if shift is not None:
        for i, row in enumerate(shift):
            m[COARSE_TOPS[i+1]:COARSE_TOPS[i], :] += np.array(row)
    for sat, d0, d1, v in stripes:
        m[d0:d1, SATS.index(sat)] = v
    return m

PANELS = [
    [daily(expand_groups([L_R_A,L_R_B,L_R_C,L_R_D]), FINE_TOPS, L_R_STRIPES, L_R_SHIFT),
     daily(np.array(L_S), BAND_TOPS, L_S_STRIPES), daily(np.array(L_W), BAND_TOPS, L_W_STRIPES)],
    [daily(expand_groups([M_R_A,M_R_B,M_R_C,M_R_D]), FINE_TOPS, M_R_STRIPES, M_R_SHIFT),
     daily(np.array(M_S), BAND_TOPS, M_S_STRIPES),
     daily(expand_groups([M_W_A,M_W_B,M_W_C,M_W_D]), FINE_TOPS, M_W_STRIPES, M_W_SHIFT)],
]

fig = plt.figure(figsize=(W/100, H/100), dpi=100, facecolor="white")

def px_axes(x0, x1, y0, y1):
    return fig.add_axes([x0/W, 1-y1/H, (x1-x0)/W, (y1-y0)/H])

ROWS = [(91, 301), (401, 611), (710, 920)]
COLS = [(78, 1076, 1097, 1140), (1276, 2274, 2295, 2338)]
BANNER_BOX = [(5, 1146, 7, 53), (1243, 2353, 6, 52)]

for (bx0, bx1, by0, by1), label in zip(BANNER_BOX, BANNERS):
    fig.patches.append(Rectangle((bx0/W, 1-by1/H), (bx1-bx0)/W, (by1-by0)/H, transform=fig.transFigure,
                                 facecolor="#fae5d7", edgecolor="none"))
    fig.text((bx0+bx1)/2/W, 1-(by0+by1)/2/H - 0.001, label, family=["Lato","DejaVu Sans"], fontsize=24.5,
             ha="center", va="center", color="black")

x_edges = np.arange(len(SATS)+1)
TICK_FS = 18.5
for c, (x0, x1, cx0, cx1) in enumerate(COLS):
    for r, (y0, y1) in enumerate(ROWS):
        ax = px_axes(x0, x1, y0, y1)
        data = PANELS[c][r]
        y_edges = np.arange(data.shape[0]+1)
        mesh = ax.pcolormesh(x_edges, y_edges, data, cmap=cmap, vmin=VMIN, vmax=VMAX, shading="flat", rasterized=True)
        ax.set_xlim(0, len(SATS)); ax.set_ylim(0.5, 368)
        ax.set_xticks(x_edges[1:-1]); ax.set_xticklabels([])
        ax.set_xticks(x_edges[:-1]+0.5, minor=True)
        ax.set_xticklabels(SATS, minor=True, rotation=45, ha="center", va="top", fontsize=TICK_FS-1, color=DARK)
        ax.set_yticks(YTICKS)
        ax.tick_params(axis="x", which="major", direction="in", top=True, bottom=True, length=8, width=1.5, color=DARK)
        ax.tick_params(axis="x", which="minor", length=0, pad=7)
        ax.tick_params(axis="y", direction="in", left=True, right=True, length=7, width=1.5, color=DARK,
                       labelsize=TICK_FS, labelcolor=DARK, pad=4)
        ax.grid(True, which="major", color="#262626", alpha=0.15, lw=1)
        ax.set_axisbelow(False)
        for s in ax.spines.values():
            s.set_linewidth(1.9); s.set_color(DARK)
        ax.set_ylabel("day", fontsize=TICK_FS+0.5, color=DARK, labelpad=2)
        ax.set_title(TITLES[c][r], fontsize=17, fontweight="bold", color="#111111", pad=7)

        cax = px_axes(cx0, cx1, y0, y1)
        cb = fig.colorbar(mesh, cax=cax, ticks=CTICKS)
        cb.ax.tick_params(direction="in", length=4, width=1.5, color=DARK, labelsize=TICK_FS, labelcolor=DARK, pad=8)
        cb.outline.set_linewidth(1.9); cb.outline.set_edgecolor(DARK)
        cb.ax.plot([0.04, 0.96], [0.3, 13.6], color="white", alpha=0.3, lw=0.8)

fig.savefig("out.png", dpi=100)
